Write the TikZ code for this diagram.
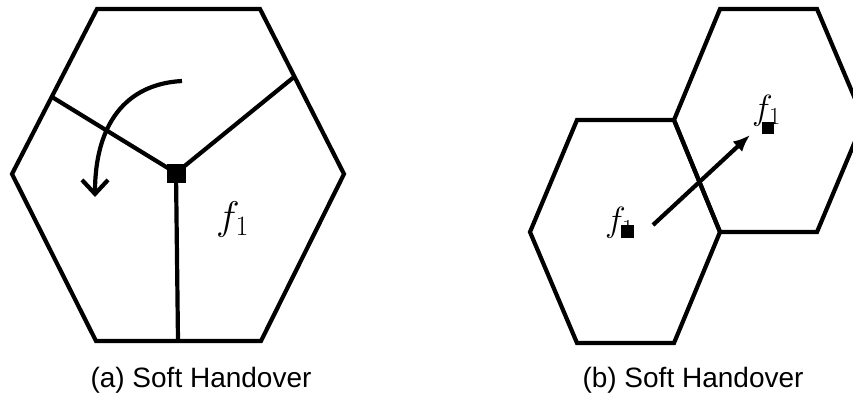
\RequirePackage{fix-cm}
\documentclass[tikz,border=0pt]{standalone}
\usepackage{fontspec}
\setsansfont{Liberation Sans}
\usetikzlibrary{arrows.meta}

\begin{document}
\begin{tikzpicture}[x=1pt, y=-1pt,
    cell/.style={line width=4.2pt, line join=miter},
    bsbox/.style={fill=black, inner sep=0pt, minimum size=#1},
    flabel/.style={anchor=base west, inner sep=0pt, font=\fontsize{#1}{#1}\selectfont},
    caption/.style={anchor=base, inner sep=0pt, font=\sffamily\fontsize{28}{32}\selectfont}]
    \useasboundingbox (0,0) rectangle (853,394);
    \clip (0,0) rectangle (853,394);

    % (a) three sectors of one cell
    \draw[cell] (97,9) -- (260,9) -- (344,174) -- (261,341) -- (96,341) -- (12,174) -- cycle;
    \node[bsbox=19pt] (bs) at (176,173) {};
    \coordinate (ul) at (52,97);
    \coordinate (ur) at (294,77);
    \coordinate (dn) at (178,341);
    \foreach \e in {ul, ur, dn}
        \draw[cell] (bs.center) -- (\e);
    \coordinate (turnA) at (182,81);
    \coordinate (turnB) at (95,197);
    \draw[cell, -{Straight Barb[length=14pt,width=26pt]}] (turnA) .. controls (125,84) and (95,125) .. (turnB);
    \node[flabel=40] (fa) at (216,229) {$f_1$};
    \node[caption] (capa) at (201,387) {(a) Soft Handover};

    % (b) two neighbouring cells
    \draw[cell] (577,120) -- (674,120) -- (720,232) -- (674,343) -- (577,343) -- (530,232) -- cycle;
    \draw[cell] (674,120) -- (720,9) -- (817,9) -- (864,120) -- (817,232) -- (720,232) -- cycle;
    \node[flabel=35] (fb) at (605,231) {$f_1$};
    \node[bsbox=13pt] (bsb) at (627,231) {};
    \node[flabel=35] (fc) at (752,119) {$f_1$};
    \node[bsbox=12pt] (bsc) at (768,128) {};
    \coordinate (mvA) at (653,225);
    \coordinate (mvB) at (750,135);
    \draw[cell, -{Latex[length=17pt,width=14pt]}] (mvA) -- (mvB);
    \node[caption] (capb) at (693,387) {(b) Soft Handover};
\end{tikzpicture}
\end{document}
